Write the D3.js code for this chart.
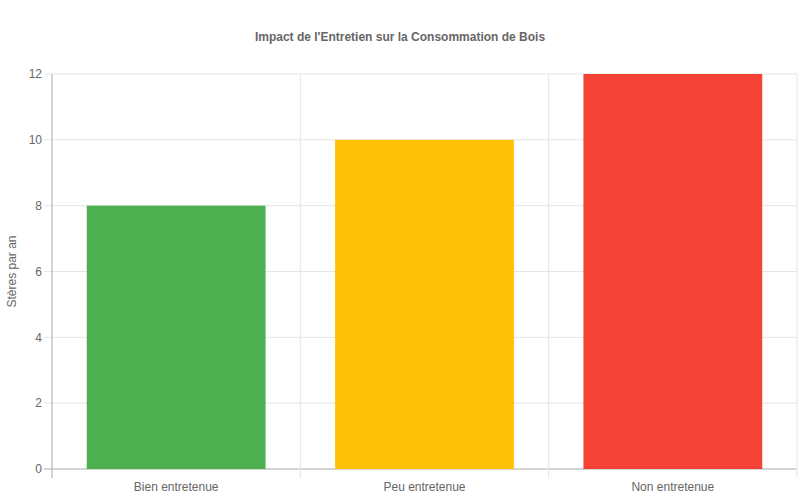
<!DOCTYPE html>
<html><head><meta charset="utf-8">
<script src="https://cdn.jsdelivr.net/npm/d3@7"></script>
<style>body{margin:0;background:#fff;font-family:"Liberation Sans",Arial,sans-serif}</style>
</head><body><svg id="chart" width="800" height="500"></svg>
<script>
var categories = ["Bien entretenue", "Peu entretenue", "Non entretenue"];
var values = [8, 10, 12];
var colors = ["#4CAF50", "#FFC107", "#F44336"];
var yTicks = [0, 2, 4, 6, 8, 10, 12];

var svg = d3.select("#chart");
var margin = {top: 74, right: 3, bottom: 31, left: 52};
var width = 800 - margin.left - margin.right;
var height = 500 - margin.top - margin.bottom;

var x = d3.scaleBand().domain(categories).range([0, width]).paddingInner(0).paddingOuter(0);
var y = d3.scaleLinear().domain([0, 12]).range([height, 0]);

var g = svg.append("g").attr("transform", "translate(" + margin.left + "," + margin.top + ")");

// horizontal grid
g.selectAll(".hgrid").data(yTicks).enter().append("line")
  .attr("x1", -8).attr("x2", width)
  .attr("y1", d => y(d)).attr("y2", d => y(d))
  .attr("stroke", d => d === 0 ? "#aaa" : "#e5e5e5");

// vertical grid at band edges
var edges = categories.map(c => x(c)).concat([width]);
g.selectAll(".vgrid").data(edges).enter().append("line")
  .attr("x1", d => d).attr("x2", d => d)
  .attr("y1", 0).attr("y2", height + 9)
  .attr("stroke", (d, i) => i === 0 ? "#aaa" : "#e5e5e5");

// bars
var bw = x.bandwidth() * 0.72;
g.selectAll("rect").data(values).enter().append("rect")
  .attr("x", (d, i) => x(categories[i]) + (x.bandwidth() - bw) / 2)
  .attr("width", bw)
  .attr("y", d => y(d))
  .attr("height", d => height - y(d))
  .attr("fill", (d, i) => colors[i]);

// y tick labels
g.selectAll(".ylab").data(yTicks).enter().append("text")
  .attr("x", -10).attr("y", d => y(d)).attr("dy", "0.35em")
  .attr("text-anchor", "end").attr("font-size", 12).attr("fill", "#666")
  .text(d => d);

// x labels
g.selectAll(".xlab").data(categories).enter().append("text")
  .attr("x", d => x(d) + x.bandwidth() / 2).attr("y", height + 22)
  .attr("text-anchor", "middle").attr("font-size", 12).attr("fill", "#666")
  .text(d => d);

svg.append("text").attr("x", 400).attr("y", 41).attr("text-anchor", "middle")
  .attr("font-size", 12).attr("font-weight", "bold").attr("fill", "#666")
  .text("Impact de l'Entretien sur la Consommation de Bois");

svg.append("text").attr("transform", "translate(16," + (margin.top + height / 2) + ") rotate(-90)")
  .attr("text-anchor", "middle").attr("font-size", 12).attr("fill", "#666")
  .text("Stères par an");
</script></body></html>
